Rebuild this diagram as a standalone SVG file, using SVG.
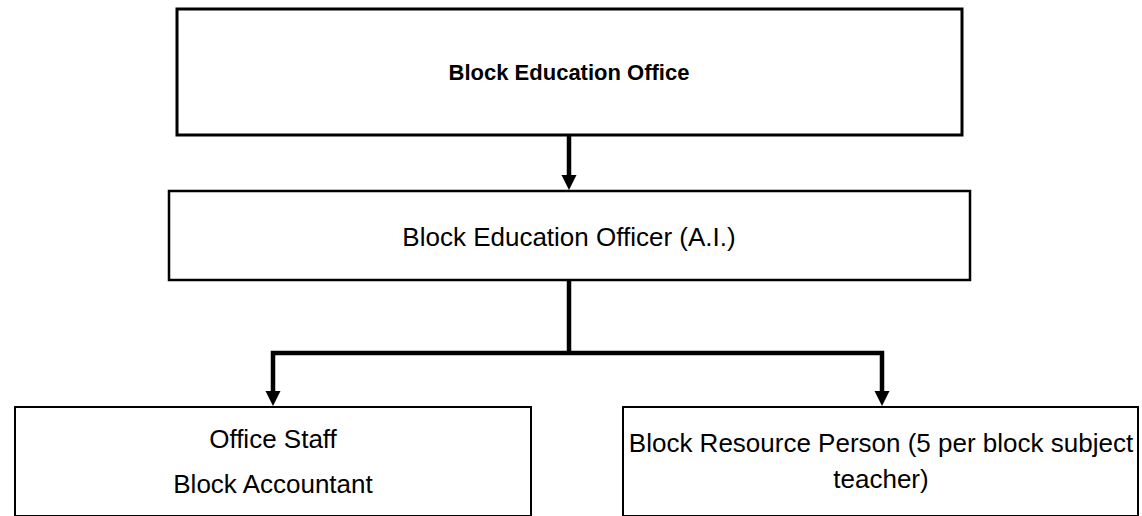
<svg xmlns="http://www.w3.org/2000/svg" width="1142" height="516" viewBox="0 0 1142 516">
<style>
.box{fill:#fff;stroke:#000}
.t{font-family:"Liberation Sans",Arial,sans-serif;font-size:26px;fill:#000;text-anchor:middle}
.b{font-weight:bold;font-size:22px}
.c{fill:none;stroke:#000;stroke-width:4.5;stroke-linejoin:miter}
</style>
<defs>
<marker id="ah" markerUnits="userSpaceOnUse" markerWidth="16" markerHeight="16" refX="1" refY="8" orient="auto" viewBox="0 0 16 16">
<path d="M0,0.5 L15,8 L0,15.5 z" fill="#000"/>
</marker>
</defs>
<rect width="1142" height="516" fill="#fff"/>
<g id="node-office">
<rect class="box" x="177" y="9" width="785" height="126" stroke-width="3"/>
<text class="t b" x="569" y="80">Block Education Office</text>
</g>
<g id="node-officer">
<rect class="box" x="169" y="191" width="801" height="89" stroke-width="2.5"/>
<text class="t" x="569" y="246">Block Education Officer (A.I.)</text>
</g>
<g id="node-staff">
<rect class="box" x="15" y="407" width="516" height="109" stroke-width="2"/>
<text class="t" x="273" y="448">Office Staff</text>
<text class="t" x="273" y="493">Block Accountant</text>
</g>
<g id="node-brp">
<rect class="box" x="623" y="407" width="515" height="109" stroke-width="2"/>
<text class="t" x="881" y="452">Block Resource Person (5 per block subject</text>
<text class="t" x="881" y="488">teacher)</text>
</g>
<g id="connectors">
<path class="c" d="M569,135 V176" marker-end="url(#ah)"/>
<path class="c" d="M569,280 V353"/>
<path class="c" d="M569,353 H273 V392" marker-end="url(#ah)"/>
<path class="c" d="M569,353 H882 V392" marker-end="url(#ah)"/>
</g>
</svg>
